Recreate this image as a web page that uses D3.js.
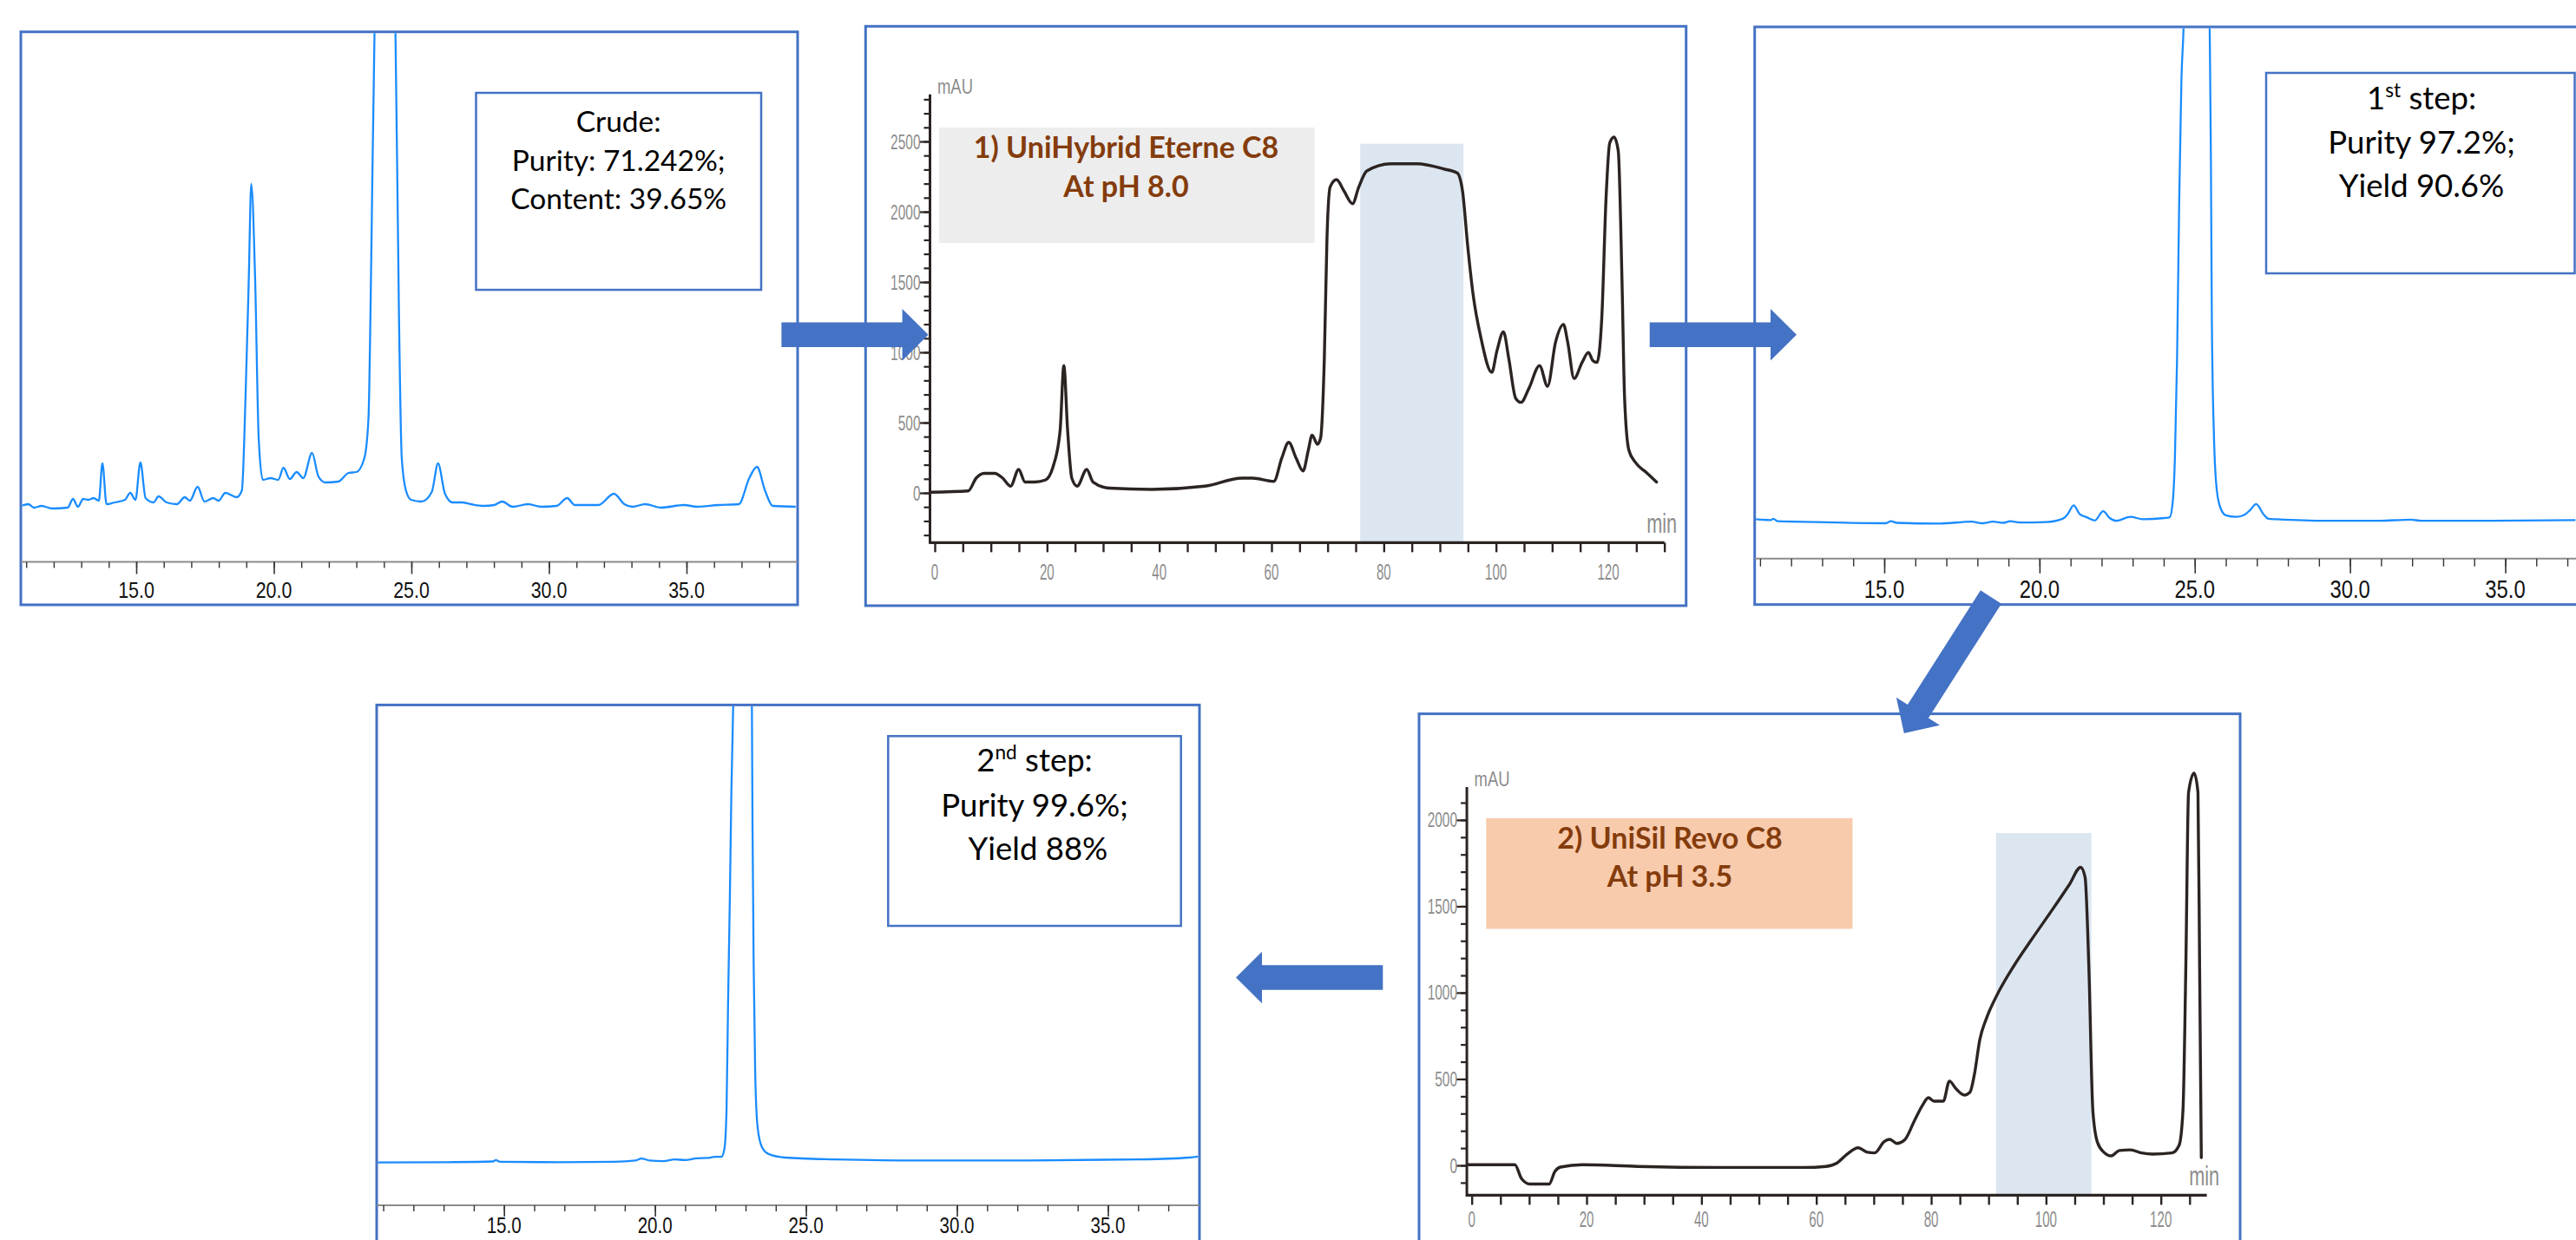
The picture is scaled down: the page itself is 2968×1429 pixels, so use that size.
<!DOCTYPE html>
<html>
<head>
<meta charset="utf-8">
<script src="https://cdn.jsdelivr.net/npm/d3@7/dist/d3.min.js"></script>
<style>
  html, body { margin: 0; padding: 0; background: #ffffff; }
  svg { display: block; }
  text { white-space: pre; }
</style>
</head>
<body>
<script>
// ---------------- DATA ----------------
// Analytical HPLC traces (time in min, signal in relative units above baseline)
const crudeTime = [10.80,11.08,11.28,11.56,11.94,12.51,12.70,12.88,13.07,13.26,13.45,13.64,13.77,13.92,14.21,14.59,14.78,14.97,15.15,15.34,15.63,15.81,16.10,16.48,16.76,16.95,17.23,17.48,17.80,17.99,18.24,18.65,18.84,18.97,19.09,19.18,19.32,19.45,19.60,19.88,20.16,20.35,20.58,20.83,21.07,21.39,21.62,21.87,22.34,22.72,23.00,23.29,23.44,23.51,23.59,23.66,24.04,24.42,24.48,24.55,24.65,24.80,24.99,25.37,25.74,25.97,26.22,26.50,26.84,27.16,27.63,28.01,28.30,28.68,29.24,29.72,30.28,30.66,30.94,31.80,32.36,32.74,33.03,33.50,34.07,34.91,35.39,36.15,36.90,37.28,37.56,37.85,38.13,38.97];
const crudeSignal = [1,3,-1,1,-2,-1,9,0,9,8,10,7,50,3,5,8,16,8,51,10,5,12,5,3,11,7,23,6,10,7,16,11,19,125,263,372,263,79,31,33,31,45,32,40,33,62,35,28,29,39,40,56,102,217,400,547,2200,547,400,217,56,19,8,6,17,50,15,5,5,3,1,2,6,0,3,0,1,10,2,2,15,3,0,3,-1,2,0,2,3,33,46,19,1,0];

const step1Time = [10.83,11.34,11.43,11.57,12.81,15.05,15.22,15.40,16.78,17.81,18.16,18.50,18.84,19.05,19.36,20.22,20.74,20.91,21.10,21.29,21.52,21.78,22.05,22.26,22.47,22.93,23.33,24.02,24.19,24.29,24.36,24.43,24.50,24.57,24.64,25.07,25.48,25.52,25.55,25.62,25.71,25.83,26.00,26.35,26.60,26.78,26.98,27.21,27.38,27.64,29.19,30.92,31.95,32.30,34.36,37.26];
const step1Signal = [1,0,1.4,-1.4,-2.3,-3.7,-1.4,-3.2,-4.1,-1.8,-3.7,-1.8,-3.2,-1.4,-2.8,-2.3,1.4,6.9,17,6.9,3.2,-0.5,10.1,2.3,-0.9,3.7,0.9,2.3,3.2,20.7,71,186,370,507,568.5,2200,568.5,416,232,94,34.4,13.8,5.5,3.7,6,11.5,18.4,6.9,1.4,0.9,-0.9,-0.9,0.5,-0.9,-0.9,0];

const step2Time = [10.78,13.13,14.63,14.73,14.87,16.80,18.63,19.36,19.55,19.82,20.28,20.65,21.01,21.38,21.75,21.97,22.20,22.30,22.37,22.42,22.48,22.53,22.59,22.90,23.21,23.23,23.27,23.32,23.40,23.54,23.76,24.31,25.96,28.71,32.38,36.04,37.69,37.98];
const step2Signal = [-1.6,-1.2,-0.4,1.2,-0.8,-1.2,-0.8,0.8,2.9,0.8,0,2,1.2,3.3,3.7,4.9,4.9,14.3,59,181,304,426,525,2200,525,387,222,100,38.7,16.3,8.2,4.1,2,0.8,0.8,2,4.1,5.3];

// Preparative traces (time in min, signal in mAU)
const prep1Time = [-0.67,5.96,7.38,8.80,10.69,12.11,13.53,14.95,16.09,17.79,19.69,21.11,22.34,23.00,23.67,24.42,25.37,27.08,28.21,31.05,38.63,48.10,54.73,56.62,60.41,61.83,63.06,64.39,65.62,66.56,67.23,68.18,68.74,69.41,69.88,70.45,71.59,72.91,74.43,75.56,76.98,81.24,85.98,90.71,93.08,94.03,94.97,95.92,97.34,99.24,100.18,101.32,102.27,103.50,104.44,105.86,107.76,109.18,110.60,112.02,112.78,113.91,115.34,116.47,117.23,117.99,118.84,119.60,120.26,121.02,121.78,122.44,122.91,123.67,124.81,126.70,128.60];
const prep1Signal = [5,14,105,139,139,105,48,167,77,77,91,190,446,905,446,105,48,167,77,34,25,48,105,105,82,247,360,247,156,304,411,346,389,956,1808,2177,2228,2148,2057,2177,2290,2341,2341,2304,2276,2148,1751,1410,1098,857,1013,1146,957,673,644,743,905,758,1070,1198,1070,814,928,999,942,928,1240,2092,2489,2531,2432,1524,673,304,218,148,77];

const prep2Time = [-0.78,7.51,8.67,10.12,13.49,14.45,15.42,19.27,28.91,43.37,57.83,61.68,63.61,65.35,67.28,68.91,70.17,71.81,72.77,74.02,75.37,77.11,78.55,79.52,80.48,82.12,83.18,84.34,85.78,86.75,87.52,88.48,89.64,91.28,94.46,97.35,101.20,104.10,106.03,106.80,107.47,108.15,108.92,110.07,111.33,112.77,114.70,116.63,118.55,121.93,123.18,123.85,124.34,124.82,125.78,126.46,126.75,127.04];
const prep2Signal = [4,4,-77,-108,-108,-37,-10,4,-6,-12,-12,-6,14,65,102,76,72,137,151,127,147,260,351,392,372,372,488,443,407,423,525,729,852,974,1158,1301,1485,1628,1726,1669,1138,321,137,76,55,86,90,72,65,72,117,321,1138,2159,2271,2159,1138,45];

// Tick values / labels
const hplcTicks = [15, 20, 25, 30, 35];
const prepXTicks = [0, 20, 40, 60, 80, 100, 120];
const prep1YTicks = [0, 500, 1000, 1500, 2000, 2500];
const prep2YTicks = [0, 500, 1000, 1500, 2000];

// Collected fraction windows [start min, end min, top mAU]
const prep1Band = [75.8, 94.2, 2484];
const prep2Band = [91.3, 107.9, 1924];

// Annotation texts (odd segments = superscript)
const crudeNote = [["Crude:"], ["Purity: 71.242%;"], ["Content: 39.65%"]];
const step1Note = [["1", "st", " step:"], ["Purity 97.2%;"], ["Yield 90.6%"]];
const step2Note = [["2", "nd", " step:"], ["Purity 99.6%;"], [" Yield 88%"]];
const prep1Label = ["1) UniHybrid Eterne C8", "At pH 8.0"];
const prep2Label = ["2) UniSil Revo C8", "At pH 3.5"];

// ---------------- DRAWING ----------------
const W = 2968, H = 1429;
const BLUE = "#4472c4";
const TRACE_BLUE = "#1a8cff";
const svg = d3.select("body").append("svg").attr("width", W).attr("height", H)
  .style("font-family", "Lato, 'Open Sans', sans-serif");
const defs = svg.append("defs");
svg.append("rect").attr("width", W).attr("height", H).attr("fill", "#fff");

let clipN = 0;
function clip(x0, y0, x1, y1) {
  const id = "clip" + (clipN++);
  defs.append("clipPath").attr("id", id).append("rect")
    .attr("x", x0).attr("y", y0).attr("width", x1 - x0).attr("height", y1 - y0);
  return `url(#${id})`;
}

function narrowText(g, str, x, y, size, width, color, anchor) {
  return g.append("text")
    .attr("x", x).attr("y", y)
    .attr("font-size", size)
    .attr("font-family", "'Liberation Sans Narrow','Arial Narrow','Liberation Sans',Arial,sans-serif")
    .attr("text-anchor", anchor || "middle")
    .attr("textLength", width).attr("lengthAdjust", "spacingAndGlyphs")
    .attr("fill", color).text(str);
}

function panelFrame(x0, y0, x1, y1) {
  svg.append("rect").attr("x", x0).attr("y", y0).attr("width", x1 - x0).attr("height", y1 - y0)
    .attr("fill", "#fff").attr("stroke", BLUE).attr("stroke-width", 3);
}

function noteBox(g, box, lines, cx, baselines, size) {
  g.append("rect").attr("x", box[0]).attr("y", box[1]).attr("width", box[2] - box[0]).attr("height", box[3] - box[1])
    .attr("fill", "#fff").attr("stroke", BLUE).attr("stroke-width", 2.5);
  lines.forEach((segs, i) => {
    const t = g.append("text").attr("x", cx).attr("y", baselines[i]).attr("text-anchor", "middle")
      .attr("font-size", size).attr("fill", "#000");
    segs.forEach((s, j) => {
      const sp = t.append("tspan").text(s);
      if (j % 2 === 1) sp.attr("font-size", size * 0.62).attr("dy", -size * 0.38);
      else if (j > 0) sp.attr("dy", size * 0.38);
    });
  });
}

// Analytical HPLC panel (blue trace)
function hplcPanel(c) {
  panelFrame(...c.frame);
  const g = svg.append("g");
  const x = d3.scaleLinear().domain([15, 35]).range(c.xRange);
  const y = d3.scaleLinear().domain([0, 100]).range([c.baseY, c.baseY - 100]);
  const fx1 = Math.min(c.frame[2], W);
  g.append("line").attr("x1", c.frame[0]).attr("x2", fx1).attr("y1", c.axisY).attr("y2", c.axisY)
    .attr("stroke", "#8c8c8c").attr("stroke-width", 2);
  const minorVals = d3.range(11, 39).filter(v => x(v) > c.frame[0] + 3 && x(v) < fx1 - 3);
  g.append("g").attr("transform", `translate(0,${c.axisY})`).attr("color", "#333")
    .call(d3.axisBottom(x).tickValues(minorVals).tickSize(c.minor).tickFormat(""))
    .call(a => a.select(".domain").remove())
    .selectAll("line").attr("stroke-width", 1.4);
  g.append("g").attr("transform", `translate(0,${c.axisY})`).attr("color", "#333")
    .call(d3.axisBottom(x).tickValues(hplcTicks).tickSize(c.major).tickFormat(""))
    .call(a => a.select(".domain").remove())
    .selectAll("line").attr("stroke-width", 1.6);
  hplcTicks.forEach(t => narrowText(g, d3.format(".1f")(t), x(t), c.labelY, c.labelSize, c.labelSize * 1.6, "#111"));
  const line = d3.line().x(d => x(d[0])).y(d => y(d[1])).curve(d3.curveMonotoneX);
  g.append("path").datum(d3.zip(c.time, c.signal))
    .attr("clip-path", clip(c.frame[0] + 1.5, c.frame[1] + 1.5, fx1, c.axisY - 1))
    .attr("d", line).attr("fill", "none").attr("stroke", TRACE_BLUE).attr("stroke-width", 2.3)
    .attr("stroke-linejoin", "round");
  noteBox(g, c.noteBox, c.note, c.noteX, c.noteBase, c.noteSize);
}

// Preparative panel (black trace with y axis)
function prepPanel(c) {
  panelFrame(...c.frame);
  const g = svg.append("g");
  const x = d3.scaleLinear().domain([0, 120]).range(c.xRange);
  const y = d3.scaleLinear().domain([0, c.yTicks[c.yTicks.length - 1]]).range(c.yRange);
  const axX = x(c.xStart), axY = y(c.yBottom);
  const ink = "#2b2422", grey = "#8d8d8d";
  g.append("rect").attr("x", x(c.band[0])).attr("y", y(c.band[2]))
    .attr("width", x(c.band[1]) - x(c.band[0])).attr("height", axY - y(c.band[2]))
    .attr("fill", "#dce6f0");
  g.append("rect").attr("x", c.labelBox[0]).attr("y", c.labelBox[1])
    .attr("width", c.labelBox[2] - c.labelBox[0]).attr("height", c.labelBox[3] - c.labelBox[1])
    .attr("fill", c.labelFill);
  c.label.forEach((s, i) => g.append("text").attr("x", c.labelX).attr("y", c.labelBase[i])
    .attr("text-anchor", "middle").attr("font-size", 34).attr("font-weight", 700)
    .attr("fill", "#843c0c").text(s));
  const minorY = d3.range(Math.ceil(c.yBottom / 100) * 100, c.yTop, 100);
  g.append("g").attr("transform", `translate(${axX},0)`).attr("color", ink)
    .call(d3.axisLeft(y).tickValues(minorY).tickSize(7).tickFormat(""))
    .call(a => a.select(".domain").remove())
    .selectAll("line").attr("stroke-width", 2.2);
  g.append("g").attr("transform", `translate(${axX},0)`).attr("color", ink)
    .call(d3.axisLeft(y).tickValues(c.yTicks).tickSize(12).tickFormat(""))
    .call(a => a.select(".domain").remove())
    .selectAll("line").attr("stroke-width", 2.2);
  c.yTicks.forEach(v => narrowText(g, String(v), axX - 11, y(v) + 8.5, 24, String(v).length * 8.6, grey, "end"));
  g.append("line").attr("x1", axX).attr("x2", axX).attr("y1", y(c.yTop)).attr("y2", axY + 1.5)
    .attr("stroke", ink).attr("stroke-width", 3);
  const minorX = d3.range(0, c.xEnd + 0.1, 5);
  g.append("g").attr("transform", `translate(0,${axY})`).attr("color", ink)
    .call(d3.axisBottom(x).tickValues(minorX).tickSize(11).tickFormat(""))
    .call(a => a.select(".domain").remove())
    .selectAll("line").attr("stroke-width", 2.4);
  g.append("line").attr("x1", axX).attr("x2", x(c.xEnd)).attr("y1", axY).attr("y2", axY)
    .attr("stroke", ink).attr("stroke-width", 3.2);
  prepXTicks.forEach(t => narrowText(g, String(t), x(t), axY + c.xLabelOffset, 26, String(t).length * 8.4, grey));
  narrowText(g, "mAU", axX + 29, y(c.yTop) - 1, 23, 41, grey);
  narrowText(g, "min", x(c.xEnd) - 3, axY - 11, 31, 35, grey);
  const line = d3.line().x(d => x(d[0])).y(d => y(d[1])).curve(d3.curveMonotoneX);
  g.append("path").datum(d3.zip(c.time, c.signal))
    .attr("d", line).attr("fill", "none").attr("stroke", ink).attr("stroke-width", 3.4)
    .attr("stroke-linejoin", "round").attr("stroke-linecap", "round");
}

// ----- panels -----
hplcPanel({
  frame: [24, 36.7, 919, 697], xRange: [157, 791], baseY: 584, axisY: 647.5,
  major: 14, minor: 7, labelY: 689, labelSize: 26,
  time: crudeTime, signal: crudeSignal,
  noteBox: [548.5, 107, 877, 334], note: crudeNote, noteX: 712.7, noteBase: [151.5, 196.5, 241], noteSize: 33.5
});
prepPanel({
  frame: [997.3, 30.3, 1942.7, 698], xRange: [1077, 1853], yRange: [568, 163], yTicks: prep1YTicks,
  xStart: -0.85, xEnd: 130, yBottom: -354, yTop: 2835, xLabelOffset: 43,
  band: prep1Band, labelBox: [1081.8, 147, 1514.6, 280], labelFill: "#ededed",
  label: prep1Label, labelX: 1297.5, labelBase: [181.5, 226.5],
  time: prep1Time, signal: prep1Signal
});
hplcPanel({
  frame: [2021.7, 31, 3000, 696.7], xRange: [2171, 2886.5], baseY: 599.3, axisY: 643.8,
  major: 17, minor: 9, labelY: 689, labelSize: 29,
  time: step1Time, signal: step1Signal,
  noteBox: [2611, 84, 2966.5, 315], note: step1Note, noteX: 2790, noteBase: [126, 176.7, 227.3], noteSize: 36.5
});
hplcPanel({
  frame: [434, 812.4, 1382, 1460], xRange: [580.7, 1276.5], baseY: 1338.1, axisY: 1389,
  major: 13, minor: 7, labelY: 1421, labelSize: 25,
  time: step2Time, signal: step2Signal,
  noteBox: [1023.3, 848.3, 1360.7, 1067], note: step2Note, noteX: 1192, noteBase: [888.6, 940.8, 990.5], noteSize: 36.5
});
prepPanel({
  frame: [1635, 822.6, 2581, 1460], xRange: [1695.7, 2489.7], yRange: [1343, 944.9], yTicks: prep2YTicks,
  xStart: -0.85, xEnd: 128, yBottom: -173, yTop: 2190, xLabelOffset: 37,
  band: prep2Band, labelBox: [1712.3, 942.8, 2134.5, 1070.4], labelFill: "#f8cbad",
  label: prep2Label, labelX: 1924, labelBase: [978.3, 1022.3],
  time: prep2Time, signal: prep2Signal
});

// ----- process arrows -----
function arrowPoints(x0, y0, x1, y1, bw, hw, hl) {
  const L = Math.hypot(x1 - x0, y1 - y0), ux = (x1 - x0) / L, uy = (y1 - y0) / L, px = -uy, py = ux;
  const bx = x1 - ux * hl, by = y1 - uy * hl;
  return [[x0 + px * bw / 2, y0 + py * bw / 2], [bx + px * bw / 2, by + py * bw / 2], [bx + px * hw / 2, by + py * hw / 2],
          [x1, y1], [bx - px * hw / 2, by - py * hw / 2], [bx - px * bw / 2, by - py * bw / 2], [x0 - px * bw / 2, y0 - py * bw / 2]];
}
[[900.4, 385.7, 1069.6, 385.7], [1900.7, 385.7, 2070, 385.7], [2294, 688, 2193.8, 845], [1593.3, 1126.5, 1424, 1126.5]]
  .forEach(a => svg.append("polygon").attr("points", arrowPoints(a[0], a[1], a[2], a[3], 28.5, 59.5, 30).map(p => p.join(",")).join(" "))
    .attr("fill", BLUE));
</script>
</body>
</html>
